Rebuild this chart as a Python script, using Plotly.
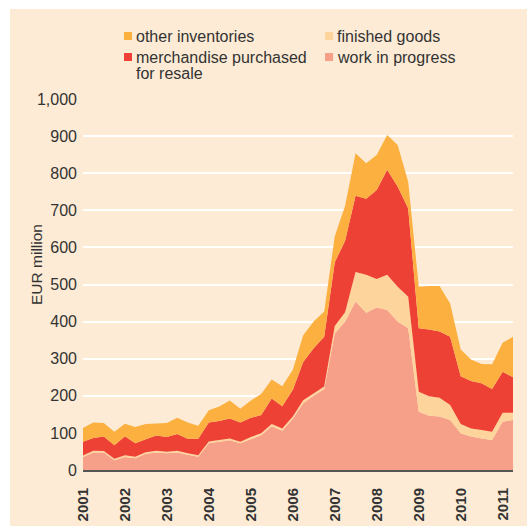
import plotly.graph_objects as go

# ---- data (EUR million, quarterly, stacked components) ----
quarters = [f"{y}-{m:02d}-01" for y in range(2001, 2012) for m in (1, 4, 7, 10)][:42]

work_in_progress = [35, 47, 47, 26, 35, 32, 44, 47, 45, 47, 41, 36,
                    72, 77, 80, 72, 84, 94, 118, 106, 138, 180, 200, 218,
                    368, 400, 454, 424, 438, 431, 400, 382,
                    157, 146, 144, 135, 99, 90, 85, 81, 130, 135]
finished_goods = [4, 5, 4, 4, 5, 4, 4, 5, 4, 5, 4, 4,
                  5, 4, 5, 4, 5, 5, 6, 6, 6, 8, 7, 7,
                  20, 25, 80, 102, 77, 95, 94, 85,
                  54, 53, 51, 40, 25, 22, 23, 22, 24, 19]
merchandise = [37, 34, 39, 37, 51, 36, 35, 41, 40, 45, 39, 44,
               51, 51, 54, 52, 52, 49, 69, 60, 72, 103, 121, 134,
               172, 193, 205, 205, 240, 283, 270, 238,
               171, 180, 178, 184, 129, 128, 126, 115, 111, 96]
other_inventories = [37, 42, 37, 36, 34, 44, 41, 32, 38, 44, 44, 35,
                     33, 39, 48, 37, 46, 57, 51, 54, 54, 72, 72, 68,
                     70, 94, 115, 96, 94, 94, 112, 72,
                     112, 117, 123, 90, 72, 58, 52, 67, 78, 109]

year_ticks = [f"{y}-01-01" for y in range(2001, 2012)]
year_labels = [str(y) for y in range(2001, 2012)]
y_ticks = list(range(0, 1001, 100))

# ---- styling ----
W, H = 527, 526
L, R, T, B = 83, 14, 99, 56
CREAM = "#FDEBD5"
C_WIP = "#F6A08A"
C_FIN = "#FDD49C"
C_MER = "#EE4136"
C_OTH = "#FBB040"
TXT = "#333333"
FONT = "Liberation Sans, Arial, sans-serif"


def px_x(px):
    return (px - L) / (W - L - R)


def px_y(py):
    return (H - B - py) / (H - T - B)


fig = go.Figure()
series = [
    ("work in progress", work_in_progress, C_WIP),
    ("finished goods", finished_goods, C_FIN),
    ("merchandise purchased for resale", merchandise, C_MER),
    ("other inventories", other_inventories, C_OTH),
]
for name, vals, col in series:
    fig.add_trace(go.Scatter(
        x=quarters, y=vals, name=name, mode="lines",
        stackgroup="one", line=dict(width=0, color=col),
        fillcolor=col, showlegend=False, hoverinfo="skip",
    ))

shapes = [dict(type="rect", xref="paper", yref="paper",
               x0=px_x(10), x1=px_x(W + 2), y0=px_y(H + 2), y1=px_y(9),
               fillcolor=CREAM, line=dict(width=0), layer="below")]

legend_items = [
    (124, 32, C_OTH, ["other inventories"]),
    (124, 53, C_MER, ["merchandise purchased", "for resale"]),
    (325, 32, C_FIN, ["finished goods"]),
    (325, 53, C_WIP, ["work in progress"]),
]
annotations = []
for sx, sy, col, lines in legend_items:
    shapes.append(dict(type="rect", xref="paper", yref="paper",
                       x0=px_x(sx), x1=px_x(sx + 8), y0=px_y(sy + 8), y1=px_y(sy),
                       fillcolor=col, line=dict(width=0)))
    for k, line in enumerate(lines):
        annotations.append(dict(
            text=line, xref="paper", yref="paper",
            x=px_x(sx + 11), y=px_y(sy + 4 + 16.5 * k),
            xanchor="left", yanchor="middle", showarrow=False, borderpad=0,
            font=dict(size=16, color=TXT, family=FONT),
        ))

annotations.append(dict(
    text="EUR million", xref="paper", yref="paper",
    x=px_x(36), y=px_y(265), xanchor="center", yanchor="middle",
    textangle=-90, showarrow=False,
    font=dict(size=15.5, color=TXT, family=FONT),
))

fig.update_layout(
    width=W, height=H, autosize=False,
    margin=dict(l=L, r=R, t=T, b=B, pad=0, autoexpand=False),
    paper_bgcolor="white", plot_bgcolor="rgba(0,0,0,0)",
    font=dict(family=FONT, color=TXT),
    shapes=shapes, annotations=annotations,
    showlegend=False,
    xaxis=dict(
        type="date", range=[quarters[0], quarters[-1]], automargin=False,
        tickvals=year_ticks, ticktext=year_labels, tickangle=-90,
        tickfont=dict(size=15, color=TXT, family="Liberation Sans, Arial", weight="bold"),
        showgrid=False, zeroline=False, showline=True,
        linecolor="#555555", linewidth=2, ticks="", ticklabelstandoff=10,
    ),
    yaxis=dict(
        range=[0, 1000], tickvals=y_ticks, tickformat=",d", automargin=False,
        tickfont=dict(size=16, color=TXT, family=FONT),
        showgrid=True, gridcolor="white", gridwidth=1.5,
        zeroline=False, showline=False, ticks="", ticklabelstandoff=5,
    ),
)

fig.write_html(
    "out.html",
    config={"displayModeBar": False, "responsive": False},
    post_script="document.body.style.margin='0';document.body.style.overflow='hidden';",
)
